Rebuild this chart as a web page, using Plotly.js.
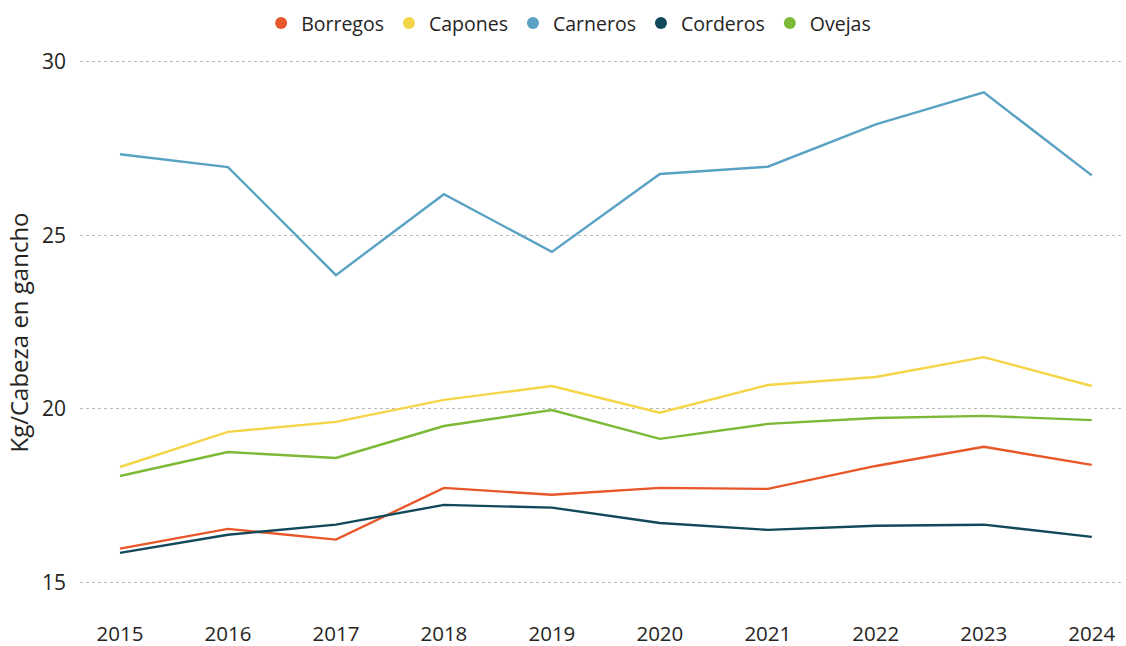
<!DOCTYPE html>
<html>
<head>
<meta charset="utf-8">
<script src="https://cdn.plot.ly/plotly-3.0.1.min.js"></script>
<style>html,body{margin:0;padding:0;background:#fff;}#chart{width:1126px;height:646px;}</style>
</head>
<body>
<div id="chart"></div>
<script>
const years = [2015, 2016, 2017, 2018, 2019, 2020, 2021, 2022, 2023, 2024];
const borregos = [15.98, 16.55, 16.24, 17.73, 17.53, 17.73, 17.70, 18.36, 18.91, 18.39];
const capones  = [18.33, 19.34, 19.63, 20.26, 20.66, 19.89, 20.69, 20.92, 21.49, 20.66];
const carneros = [27.33, 26.96, 23.85, 26.18, 24.52, 26.76, 26.97, 28.19, 29.11, 26.72];
const corderos = [15.86, 16.38, 16.67, 17.24, 17.16, 16.72, 16.52, 16.64, 16.67, 16.32];
const ovejas   = [18.07, 18.76, 18.59, 19.51, 19.97, 19.14, 19.57, 19.74, 19.80, 19.68];
const names = ["Borregos", "Capones", "Carneros", "Corderos", "Ovejas"];
const colors = ["#E8572A", "#F5D548", "#5AA2C4", "#11495A", "#7CB937"];
const series = [borregos, capones, carneros, corderos, ovejas];

const traces = [];
series.forEach((vals, i) => {
  traces.push({
    x: years, y: vals, name: names[i], type: "scatter", mode: "lines",
    line: {color: colors[i], width: 2.4}, showlegend: false, legendgroup: names[i]
  });
});
names.forEach((n, i) => {
  traces.push({
    x: [null], y: [null], name: n, type: "scatter", mode: "markers",
    marker: {color: colors[i], size: 12}, legendgroup: n, showlegend: true
  });
});

const layout = {
  width: 1126, height: 646,
  margin: {l: 80, r: 4, t: 51, b: 32},
  paper_bgcolor: "#fff", plot_bgcolor: "#fff",
  font: {family: "Open Sans, Noto Sans, sans-serif", color: "#252423", size: 20},
  showlegend: true,
  legend: {orientation: "h", xref: "container", x: 0.505, xanchor: "center",
           yref: "container", y: 0.994, yanchor: "top",
           font: {size: 19.5, color: "#252423"}, itemwidth: 30, tracegroupgap: 0},
  xaxis: {
    type: "linear", range: [2014.63, 2024.28], tickmode: "array", tickvals: years,
    ticktext: years.map(String), showgrid: false, zeroline: false, showline: false,
    ticks: "", ticklabelstandoff: 5, tickfont: {size: 20.5, color: "#252423"}
  },
  yaxis: {
    range: [14.1, 30.3], tickvals: [15, 20, 25, 30], showgrid: true,
    gridcolor: "#B8B8B8", griddash: "dot", gridwidth: 1, zeroline: false, showline: false,
    ticks: "", ticklabelstandoff: 13,
    tickfont: {size: 21, color: "#252423"},
    title: {text: "Kg/Cabeza en gancho", font: {size: 24, color: "#252423"}, standoff: 6}
  }
};
Plotly.newPlot("chart", traces, layout, {displayModeBar: false, staticPlot: true});
</script>
</body>
</html>
